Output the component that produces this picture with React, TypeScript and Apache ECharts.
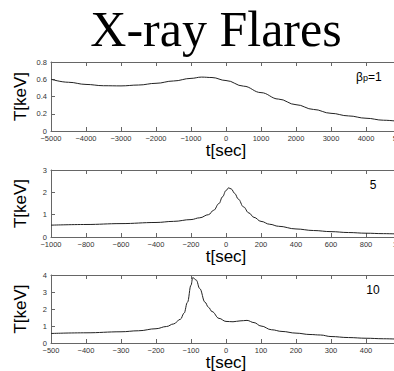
import React, { useEffect, useRef } from "react";
import * as echarts from "echarts";

// Panel 1 (beta_p = 1)
const p1Time = [-5000, -4500, -4000, -3500, -3000, -2500, -2000, -1500, -1000, -700, -400, 0, 500, 1000, 1500, 2000, 2500, 3000, 3500, 4000, 4500, 5000];
const p1Temp = [0.6, 0.565, 0.54, 0.525, 0.523, 0.533, 0.553, 0.58, 0.61, 0.625, 0.62, 0.585, 0.52, 0.445, 0.37, 0.305, 0.25, 0.205, 0.175, 0.148, 0.125, 0.108];

// Panel 2 (5)
const p2Time = [-1000, -800, -600, -400, -300, -200, -150, -100, -70, -40, -20, 0, 15, 30, 50, 70, 100, 130, 160, 200, 250, 300, 400, 500, 600, 700, 800, 900, 1000];
const p2Temp = [0.53, 0.56, 0.6, 0.65, 0.7, 0.78, 0.86, 1.0, 1.2, 1.5, 1.8, 2.08, 2.2, 2.15, 1.95, 1.7, 1.35, 1.08, 0.88, 0.7, 0.57, 0.48, 0.36, 0.29, 0.24, 0.2, 0.17, 0.15, 0.13];

// Panel 3 (10)
const p3Time = [-500, -400, -300, -250, -200, -170, -150, -130, -120, -110, -100, -95, -85, -75, -60, -50, -40, -20, 0, 20, 40, 60, 80, 100, 130, 160, 200, 240, 270, 300, 350, 400, 450, 500];
const p3Temp = [0.56, 0.6, 0.66, 0.72, 0.84, 0.97, 1.12, 1.4, 1.75, 2.4, 3.4, 3.85, 3.7, 3.2, 2.4, 2.1, 1.85, 1.45, 1.27, 1.25, 1.3, 1.33, 1.2, 1.0, 0.78, 0.68, 0.58, 0.5, 0.47, 0.38, 0.32, 0.28, 0.25, 0.22];

const xRanges = [
  { min: -5000, max: 5000, interval: 1000 },
  { min: -1000, max: 1000, interval: 200 },
  { min: -500, max: 500, interval: 100 },
];
const yRanges = [
  { min: 0, max: 0.8, interval: 0.2 },
  { min: 0, max: 3, interval: 1 },
  { min: 0, max: 4, interval: 1 },
];

const panelLabels = ["", "5", "10"];

const grids = [
  { left: 51, top: 62, width: 350, height: 69, outerBoundsMode: "none", containLabel: false },
  { left: 51, top: 170, width: 350, height: 67, outerBoundsMode: "none", containLabel: false },
  { left: 51, top: 275, width: 350, height: 68, outerBoundsMode: "none", containLabel: false },
];

export default function App() {
  const ref = useRef<HTMLDivElement>(null);
  useEffect(() => {
    if (!ref.current) return;
    const chart = echarts.init(ref.current, undefined, { renderer: "svg" });
    const axisColor = "#666";
    const labelStyle = {
      fontFamily: "Liberation Sans",
      fontSize: 7.5,
      color: "#333",
    };
    const xAxes: any[] = [];
    const yAxes: any[] = [];
    xRanges.forEach((r, i) => {
      xAxes.push({
        type: "value",
        gridIndex: i,
        position: "bottom",
        ...r,
        axisLine: { show: true, onZero: false, lineStyle: { color: axisColor, width: 1 } },
        axisTick: { show: true, inside: true, length: 4, lineStyle: { color: axisColor } },
        axisLabel: {
          ...labelStyle,
          margin: 3,
          formatter: (v: number) => String(v).replace("-", "\u2212"),
        },
        splitLine: { show: false },
      });
      xAxes.push({
        type: "value",
        gridIndex: i,
        position: "top",
        ...r,
        axisLine: { show: true, onZero: false, lineStyle: { color: axisColor, width: 1 } },
        axisTick: { show: true, inside: true, length: 4, lineStyle: { color: axisColor } },
        axisLabel: { show: false },
        splitLine: { show: false },
      });
    });
    yRanges.forEach((r, i) => {
      yAxes.push({
        type: "value",
        gridIndex: i,
        position: "left",
        ...r,
        axisLine: { show: true, onZero: false, lineStyle: { color: axisColor, width: 1 } },
        axisTick: { show: true, inside: true, length: 4, lineStyle: { color: axisColor } },
        axisLabel: {
          ...labelStyle,
          margin: 4,
          formatter: (v: number) => (v === 0 ? "0" : String(Math.round(v * 10) / 10)),
        },
        splitLine: { show: false },
      });
    });
    const datasets = [
      [p1Time, p1Temp],
      [p2Time, p2Temp],
      [p3Time, p3Temp],
    ];
    const series = datasets.map(([t, v], i) => ({
      type: "line",
      xAxisIndex: i * 2,
      yAxisIndex: i,
      data: t.map((x, k) => [x, v[k]]),
      showSymbol: false,
      smooth: 0.4,
      smoothMonotone: "x",
      lineStyle: { color: "#222", width: 1 },
    }));
    const graphic: any[] = [
      {
        type: "text",
        x: 216,
        y: 29,
        style: {
          text: "X-ray Flares",
          font: '50px "Liberation Serif"',
          fill: "#000",
          align: "center",
          verticalAlign: "middle",
        },
      },
    ];
    grids.forEach((g, i) => {
      graphic.push({
        type: "text",
        x: 20,
        y: g.top + g.height / 2,
        rotation: Math.PI / 2,
        style: {
          text: "T[keV]",
          font: '17px "Liberation Sans"',
          fill: "#000",
          align: "center",
          verticalAlign: "middle",
        },
      });
      graphic.push({
        type: "text",
        x: 226,
        y: g.top + g.height + 19,
        style: {
          text: "t[sec]",
          font: '17px "Liberation Sans"',
          fill: "#000",
          align: "center",
          verticalAlign: "middle",
        },
      });
      if (panelLabels[i]) {
        graphic.push({
          type: "text",
          x: 373,
          y: g.top + 15,
          style: {
            text: panelLabels[i],
            font: '12px "Liberation Sans"',
            fill: "#000",
            align: "center",
            verticalAlign: "middle",
          },
        });
      }
    });
    graphic.push({
      type: "text",
      x: 356,
      y: 73,
      style: {
        text: "{b|\u03b2}{s|p}{b|=1}",
        fill: "#000",
        verticalAlign: "middle",
        rich: {
          b: { fontFamily: "Liberation Sans", fontSize: 12, fill: "#000", verticalAlign: "bottom" },
          s: { fontFamily: "Liberation Sans", fontSize: 9, fill: "#000", padding: [10, 0, 0, 0] },
        },
      },
    });
    chart.setOption({
      animation: false,
      backgroundColor: "#fff",
      grid: grids,
      xAxis: xAxes,
      yAxis: yAxes,
      series,
      graphic,
    });
    return () => chart.dispose();
  }, []);
  return (
    <div
      ref={ref}
      style={{ position: "absolute", left: 0, top: 0, width: 394, height: 371 }}
    />
  );
}
